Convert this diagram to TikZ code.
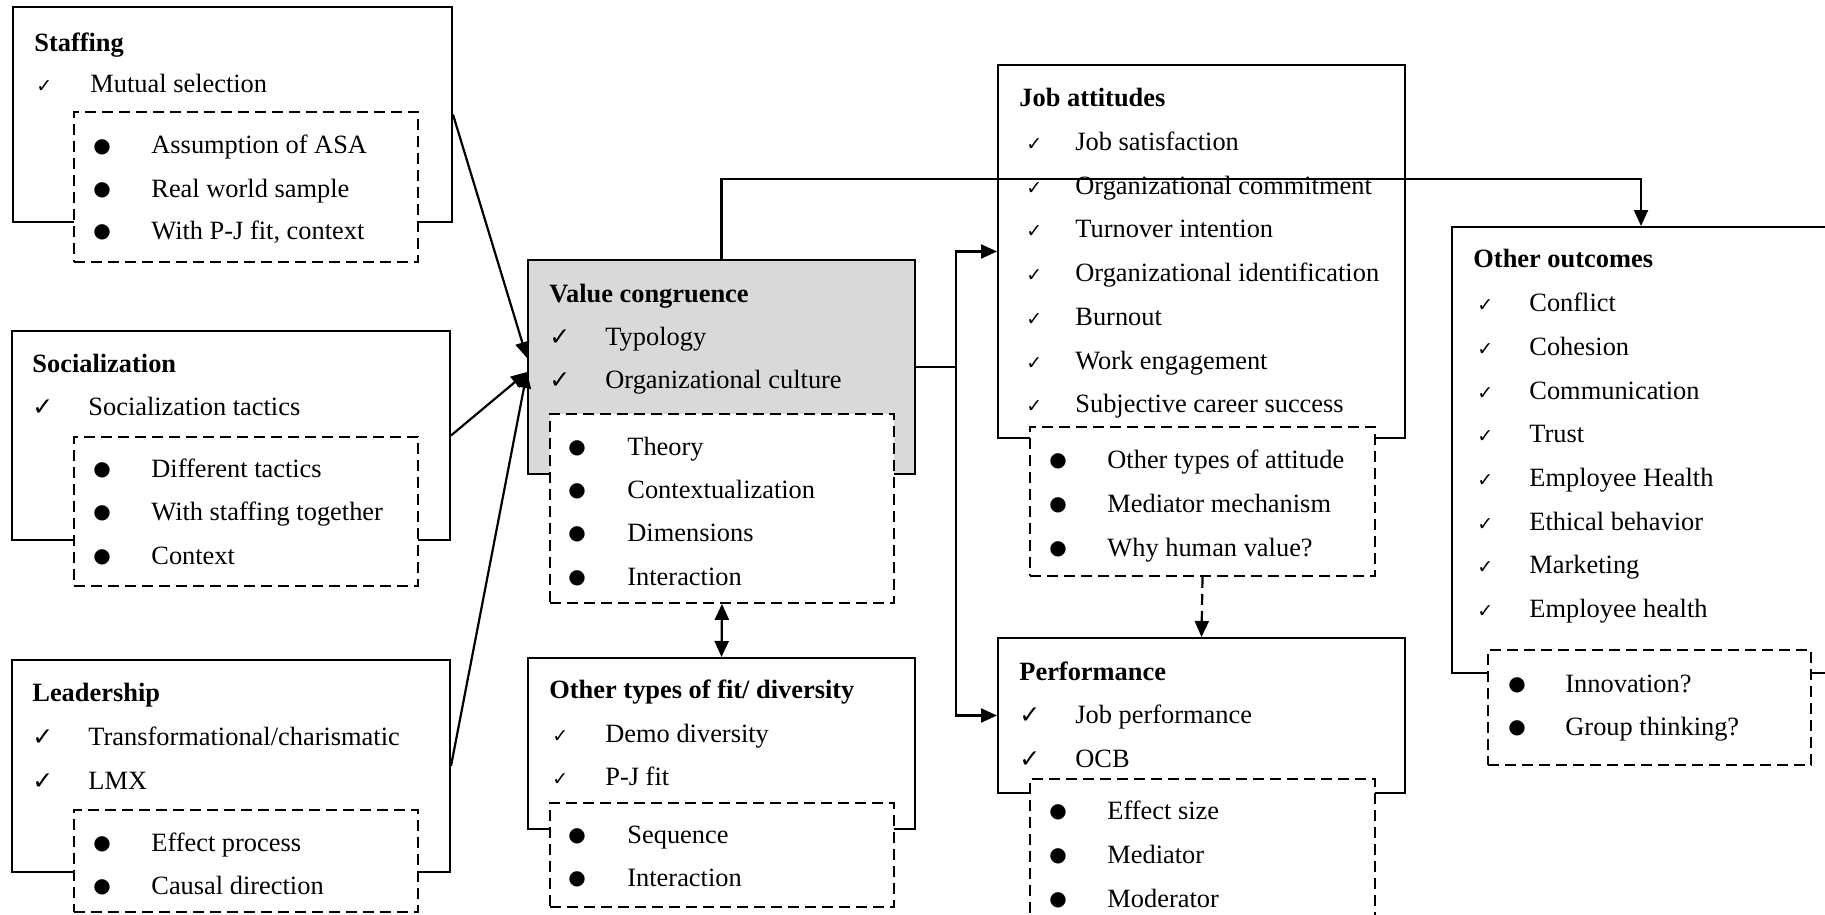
\documentclass[tikz,border=0pt]{standalone}
\usepackage{fontspec}
\setmainfont{Liberation Serif}
\newfontfamily\djv{DejaVu Sans}
\usetikzlibrary{arrows.meta,fit}
\definecolor{vcgray}{RGB}{217,217,217}
\tikzset{
  sbox/.style={draw, line width=1pt, inner sep=0pt},
  gbox/.style={sbox, fill=vcgray},
  dbox/.style={draw, fill=white, line width=0.85pt, dash pattern=on 5.5pt off 3pt, inner sep=0pt},
  ttl/.style={anchor=base west, inner sep=0pt, font=\fontsize{13.2}{15}\selectfont\bfseries},
  txt/.style={anchor=base west, inner sep=0pt, font=\fontsize{13.2}{15}\selectfont},
  cks/.style={anchor=base west, inner sep=0pt, font=\djv\fontsize{9.5}{10}\selectfont},
  ckb/.style={anchor=base west, inner sep=0pt, font=\djv\fontsize{12.5}{13}\selectfont},
  bul/.style={anchor=center, inner sep=0pt, font=\djv\fontsize{10}{11}\selectfont},
  arr/.style={line width=1.1pt, -{Triangle[length=8pt,width=7pt]}},
  arrd/.style={arr, dash pattern=on 5.5pt off 3pt},
  darr/.style={line width=1.1pt, {Triangle[length=8pt,width=7pt]}-{Triangle[length=8pt,width=7pt]}},
  con/.style={line width=1.1pt}
}
% name, check x, text x, baseline y, text
\newcommand{\chkS}[5]{\node[cks] (#1c) at (#2,#4) {✓}; \node[txt] (#1) at (#3,#4) {#5};}
\newcommand{\chkB}[5]{\node[ckb] (#1c) at (#2,#4) {✓}; \node[txt] (#1) at (#3,#4) {#5};}
\newcommand{\bulI}[5]{\node[bul] (#1b) at (#2,#4-7) {●}; \node[txt] (#1) at (#3,#4) {#5};}
\begin{document}
\begin{tikzpicture}[x=0.5pt,y=-0.5pt]
\useasboundingbox (0,0) rectangle (1825,915);
\clip (0,0) rectangle (1825,915);

% ---------- Staffing ----------
\node[sbox, fit={(13,7)(452,222)}] (staff) {};
\node[ttl] (staffT) at (34,52) {Staffing};
\chkS{s1}{36}{90}{93}{Mutual selection}
\node[dbox, fit={(74,112)(418,262)}] (staffD) {};
\bulI{s2}{102}{151}{154}{Assumption of ASA}
\bulI{s3}{102}{151}{197}{Real world sample}
\bulI{s4}{102}{151}{239}{With P-J fit, context}

% ---------- Socialization ----------
\node[sbox, fit={(12,331)(450,540)}] (soc) {};
\node[ttl] (socT) at (32,372) {Socialization};
\chkB{so1}{32}{88}{415}{Socialization tactics}
\node[dbox, fit={(74,437)(418,586)}] (socD) {};
\bulI{so2}{102}{151}{477}{Different tactics}
\bulI{so3}{102}{151}{520}{With staffing together}
\bulI{so4}{102}{151}{564}{Context}

% ---------- Leadership ----------
\node[sbox, fit={(12,660)(450,872)}] (lead) {};
\node[ttl] (leadT) at (32,701) {Leadership};
\chkB{l1}{32}{88}{745}{Transformational/charismatic}
\chkB{l2}{32}{88}{789}{LMX}
\node[dbox, fit={(74,810)(418,912)}] (leadD) {};
\bulI{l3}{102}{151}{851}{Effect process}
\bulI{l4}{102}{151}{894}{Causal direction}

% ---------- Value congruence ----------
\node[gbox, fit={(528,260)(915,474)}] (vc) {};
\node[ttl] (vcT) at (549,302) {Value congruence};
\chkB{v1}{549}{605}{345}{Typology}
\chkB{v2}{549}{605}{388}{Organizational culture}
\node[dbox, fit={(550,414)(894,603)}] (vcD) {};
\bulI{v3}{577}{627}{455}{Theory}
\bulI{v4}{577}{627}{498}{Contextualization}
\bulI{v5}{577}{627}{541}{Dimensions}
\bulI{v6}{577}{627}{585}{Interaction}

% ---------- Other types of fit ----------
\node[sbox, fit={(528,658)(915,829)}] (ot) {};
\node[ttl] (otT) at (549,698) {Other types of fit/ diversity};
\chkS{o1}{552}{605}{742}{Demo diversity}
\chkS{o2}{552}{605}{785}{P-J fit}
\node[dbox, fit={(550,803)(894,907)}] (otD) {};
\bulI{o3}{577}{627}{843}{Sequence}
\bulI{o4}{577}{627}{886}{Interaction}

% ---------- Job attitudes ----------
\node[sbox, fit={(998,65)(1405,438)}] (ja) {};
\node[ttl] (jaT) at (1019,106) {Job attitudes};
\chkS{j1}{1026}{1075}{150}{Job satisfaction}
\chkS{j2}{1026}{1075}{194}{Organizational commitment}
\chkS{j3}{1026}{1075}{237}{Turnover intention}
\chkS{j4}{1026}{1075}{281}{Organizational identification}
\chkS{j5}{1026}{1075}{325}{Burnout}
\chkS{j6}{1026}{1075}{369}{Work engagement}
\chkS{j7}{1026}{1075}{412}{Subjective career success}
\node[dbox, fit={(1030,427)(1375,576)}] (jaD) {};
\bulI{j8}{1058}{1107}{468}{Other types of attitude}
\bulI{j9}{1058}{1107}{512}{Mediator mechanism}
\bulI{j10}{1058}{1107}{556}{Why human value?}

% ---------- Performance ----------
\node[sbox, fit={(998,638)(1405,793)}] (perf) {};
\node[ttl] (perfT) at (1019,680) {Performance};
\chkB{p1}{1019}{1075}{723}{Job performance}
\chkB{p2}{1019}{1075}{767}{OCB}
\node[dbox, fit={(1030,779)(1375,935)}] (perfD) {};
\bulI{p3}{1058}{1107}{819}{Effect size}
\bulI{p4}{1058}{1107}{863}{Mediator}
\bulI{p5}{1058}{1107}{907}{Moderator}

% ---------- Other outcomes ----------
\node[sbox, fit={(1452,227)(1830,673)}] (oo) {};
\node[ttl] (ooT) at (1473,267) {Other outcomes};
\chkS{u1}{1477}{1529}{311}{Conflict}
\chkS{u2}{1477}{1529}{355}{Cohesion}
\chkS{u3}{1477}{1529}{399}{Communication}
\chkS{u4}{1477}{1529}{442}{Trust}
\chkS{u5}{1477}{1529}{486}{Employee Health}
\chkS{u6}{1477}{1529}{530}{Ethical behavior}
\chkS{u7}{1477}{1529}{573}{Marketing}
\chkS{u8}{1477}{1529}{617}{Employee health}
\node[dbox, fit={(1488,650)(1811,765)}] (ooD) {};
\bulI{u9}{1517}{1565}{692}{Innovation?}
\bulI{u10}{1517}{1565}{735}{Group thinking?}

% ---------- Connectors ----------
\draw[arr] (staff.east) -- ([yshift=4.5pt]vc.west);
\draw[arr] (soc.east) -- ([yshift=-2.5pt]vc.west);
\draw[arr] (lead.east) -- ([yshift=-2.5pt]vc.west);

\coordinate (topy) at (0,179);
\draw[arr] (vc.north) -- (vc.north |- topy) -| (oo.north);

\coordinate (jx) at (956,0);
\coordinate (junc) at (vc.east -| jx);
\draw[con] (vc.east) -- (junc);
\draw[arr] (junc) |- (ja.west);
\draw[arr] (junc) |- (perf.west);

\draw[arrd] (jaD.south) -- (perf.north);
\draw[darr] (vcD.south) -- (ot.north);
\end{tikzpicture}
\end{document}
